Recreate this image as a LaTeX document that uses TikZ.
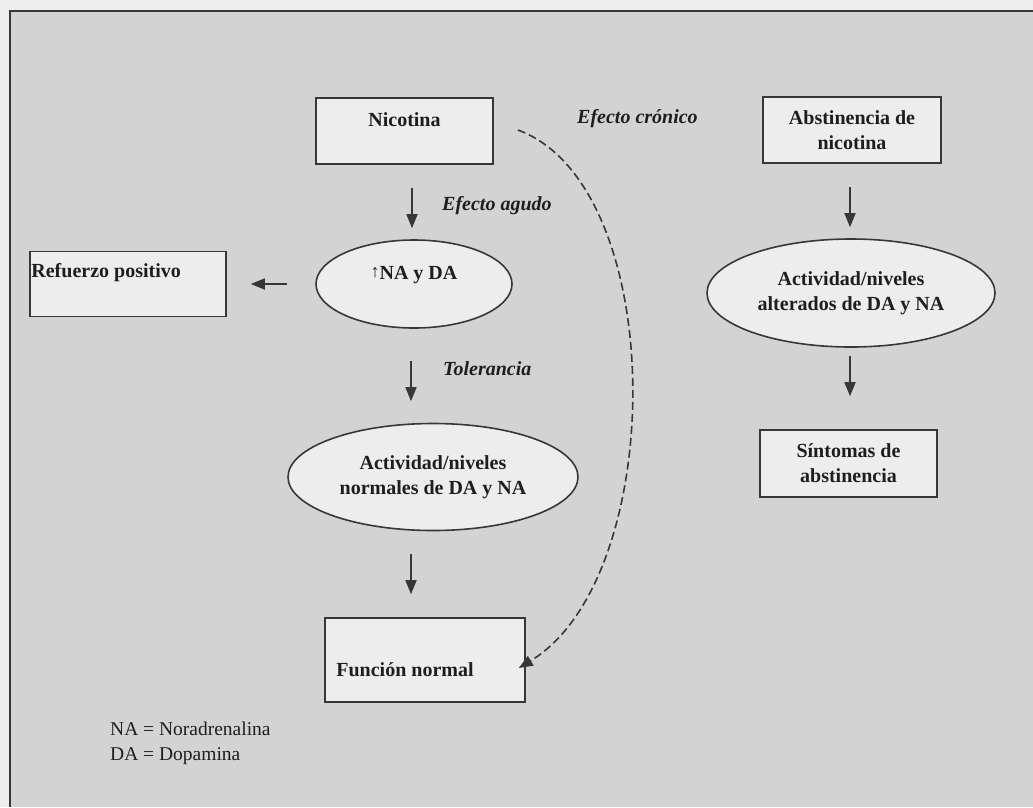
\documentclass[tikz,border=0pt]{standalone}
\usepackage{fontspec}
\setmainfont{Liberation Serif}
\usetikzlibrary{shapes.geometric,arrows.meta}
\definecolor{paper}{RGB}{211,211,211}
\definecolor{margin}{RGB}{238,238,238}
\definecolor{boxfill}{RGB}{237,237,237}
\definecolor{edge}{RGB}{55,55,55}
\definecolor{ink}{RGB}{30,30,30}
\begin{document}
\begin{tikzpicture}[x=1pt, y=-1pt]
    \tikzset{box/.style={rectangle, draw=edge, line width=1.6pt, fill=boxfill,
        inner sep=0pt, text=ink, align=center,
        font=\fontsize{20}{25}\selectfont\bfseries}}
    \tikzset{oval/.style={ellipse, draw=edge, line width=1.6pt, fill=boxfill,
        inner sep=0pt, text=ink, align=center,
        font=\fontsize{20}{25}\selectfont\bfseries}}
    \tikzset{every label/.style={inner sep=2pt, text=ink,
        font=\fontsize{20}{25}\selectfont\bfseries}}
    \tikzset{effect/.style={anchor=west, inner sep=0pt, text=ink,
        font=\fontsize{20}{24}\selectfont\bfseries\itshape}}
    \tikzset{legend/.style={anchor=north west, inner sep=0pt, text=ink,
        align=left, font=\fontsize{19.5}{25}\selectfont}}
    \tikzset{arrow/.style={draw=edge, line width=1.6pt,
        -{Triangle[length=14pt,width=11pt]}}}

    \useasboundingbox (0,0) rectangle (1033,807);
    \fill [margin] (0,0) rectangle (1033,807);
    \fill [paper] (10,11) rectangle (1033,807);
    \draw [edge, line width=2.5pt] (10,807) -- (10,11) -- (1033,11);

    % left column
    \node (nicotina) [box, minimum width=177pt, minimum height=66pt,
        label={[yshift=11pt]center:Nicotina}] at (404.5,131) {};
    \node (refuerzo) [box, minimum width=196pt, minimum height=65pt,
        label={[anchor=west,yshift=11.5pt]west:Refuerzo positivo}] at (128,284) {};
    \node (nada) [oval, minimum width=196pt, minimum height=88pt,
        label={[yshift=9pt]center:{\raisebox{2pt}{\mdseries\fontsize{18}{18}\selectfont ↑}NA y DA}}]
        at (414,284) {};
    \node (normales) [oval, minimum width=290pt, minimum height=107pt]
        at (433,477) {Actividad/niveles\\normales de DA y NA};
    \node (funcion) [box, minimum width=200pt, minimum height=84pt,
        label={[anchor=west,xshift=10pt,yshift=-10pt]west:Función normal}] at (425,660) {};

    % right column
    \node (abstinencia) [box, minimum width=178pt, minimum height=66pt]
        at (852,130) {Abstinencia de\\nicotina};
    \node (alterados) [oval, minimum width=288pt, minimum height=108pt]
        at (851,293) {Actividad/niveles\\alterados de DA y NA};
    \node (sintomas) [box, minimum width=177pt, minimum height=67pt]
        at (848.5,463.5) {Síntomas de\\abstinencia};

    % effect labels and legend
    \node (agudo) [effect] at (442,206) {Efecto agudo};
    \node (cronico) [effect] at (577,119) {Efecto crónico};
    \node (tolerancia) [effect] at (443,369) {Tolerancia};
    \node (leyenda) [legend] at (110,722) {NA = Noradrenalina\\DA = Dopamina};

    \draw [arrow] ([xshift=7.5pt,yshift=-23pt]nicotina.south) -- ([xshift=-2pt,yshift=11pt]nada.north);
    \draw [arrow] ([xshift=-28pt]nada.west) -- ([xshift=24pt]refuerzo.east);
    \draw [arrow] ([xshift=-3pt,yshift=-32pt]nada.south) -- ([xshift=-22pt,yshift=21.5pt]normales.north);
    \draw [arrow] ([xshift=-22pt,yshift=-22.5pt]normales.south) -- ([xshift=-14pt,yshift=23pt]funcion.north);
    \draw [arrow] ([xshift=-2pt,yshift=-23pt]abstinencia.south) -- ([xshift=-1pt,yshift=11pt]alterados.north);
    \draw [arrow] ([xshift=-1pt,yshift=-8pt]alterados.south) -- ([xshift=1.5pt,yshift=33pt]sintomas.north);
    \draw [arrow, dash pattern=on 8pt off 4pt] ([xshift=24pt,yshift=1pt]nicotina.east)
        .. controls (669,185) and (669,577) .. ([xshift=-7pt,yshift=-8pt]funcion.east);
\end{tikzpicture}
\end{document}
